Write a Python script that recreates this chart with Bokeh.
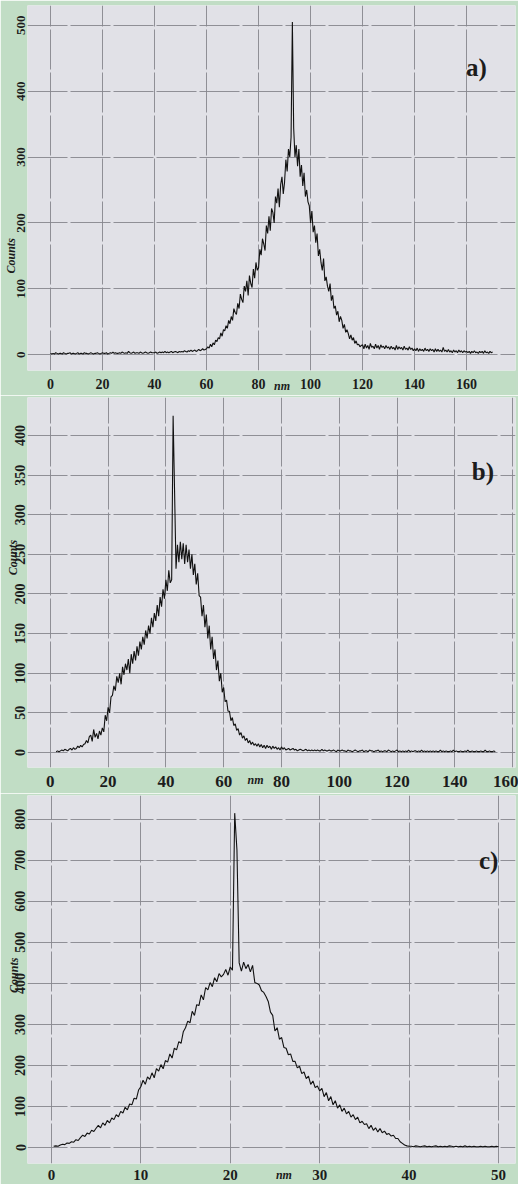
import numpy as np
from bokeh.plotting import figure
from bokeh.layouts import column
from bokeh.models import Label, FixedTicker, LinearAxis
from bokeh.embed import file_html
from bokeh.resources import INLINE

# ---- panel a) : size distribution, 0.5 nm bins from 0 nm ----
a_start, a_step = 0.0, 0.5
a_counts = [
    2, 1, 2, 1, 3, 2, 1, 2, 2, 1, 3, 2, 1, 2, 2, 3, 1, 2, 2, 1,
    2, 3, 1, 2, 2, 1, 3, 2, 2, 1, 2, 3, 2, 1, 2, 2, 3, 2, 1, 2,
    3, 2, 2, 3, 1, 2, 3, 2, 4, 2, 3, 2, 2, 3, 2, 4, 3, 2, 3, 2,
    5, 3, 2, 3, 4, 2, 3, 3, 2, 4, 3, 2, 3, 4, 3, 2, 3, 4, 3, 3,
    3, 4, 2, 3, 4, 3, 4, 3, 5, 3, 4, 3, 4, 5, 3, 4, 5, 4, 3, 5,
    4, 5, 4, 6, 5, 4, 6, 5, 7, 5, 6, 7, 5, 6, 8, 6, 7, 9, 7, 8,
    9, 12, 10, 16, 12, 18, 15, 22, 20, 26, 24, 33, 28, 38, 36, 44, 40, 52, 47, 58,
    52, 70, 64, 61, 78, 70, 92, 84, 79, 104, 96, 112, 90, 120, 108, 102, 130, 116, 140, 128,
    132, 160, 151, 176, 168, 158, 196, 184, 210, 188, 222, 216, 200, 240, 230, 252, 224, 258, 270, 244,
    262, 296, 278, 312, 300, 330, 505, 344, 300, 318, 286, 312, 270, 288, 256, 276, 240, 250, 232, 226,
    200, 218, 186, 196, 170, 184, 150, 160, 140, 128, 146, 112, 118, 104, 96, 108, 82, 90, 70, 74,
    60, 66, 50, 58, 52, 40, 46, 34, 38, 32, 24, 30, 22, 26, 17, 21, 15, 16, 12, 14,
    15, 9, 16, 10, 14, 8, 17, 11, 13, 9, 16, 10, 14, 8, 15, 11, 13, 9, 14, 10,
    12, 8, 13, 9, 11, 7, 14, 8, 12, 9, 11, 7, 13, 8, 10, 7, 12, 8, 10, 6,
    9, 6, 10, 5, 9, 6, 8, 5, 10, 6, 8, 5, 9, 6, 8, 4, 9, 5, 8, 5,
    7, 4, 11, 5, 7, 4, 8, 4, 6, 3, 7, 4, 6, 3, 7, 4, 6, 3, 6, 4,
    5, 3, 5, 2, 5, 3, 6, 3, 4, 2, 5, 3, 5, 2, 6, 3, 4, 2, 5, 3, 4,
]
a_xticks = [0, 20, 40, 60, 80, 100, 120, 140, 160]
a_yticks = [0, 100, 200, 300, 400, 500]

# ---- panel b) : 0.5 nm bins from 2 nm ----
b_start, b_step = 2.0, 0.5
b_counts = [
    1, 2, 1, 2, 3, 2, 4, 3, 2, 4, 5, 3, 6, 4, 5, 8, 6, 9, 7, 10,
    11, 15, 12, 20, 22, 14, 29, 19, 24, 17, 27, 22, 31, 26, 47, 40, 57, 50, 70, 72,
    84, 78, 96, 88, 100, 86, 108, 98, 112, 104, 118, 100, 124, 112, 128, 116, 134, 122, 140, 130,
    146, 136, 154, 144, 160, 150, 170, 158, 176, 166, 186, 172, 196, 184, 206, 194, 218, 204, 230, 214,
    218, 425, 330, 232, 262, 240, 266, 244, 264, 238, 262, 240, 256, 232, 250, 224, 238, 212, 226, 198,
    196, 172, 186, 158, 174, 144, 160, 130, 146, 118, 130, 104, 116, 90, 100, 76, 82, 64, 66, 52,
    52, 40, 44, 34, 36, 28, 30, 22, 25, 18, 21, 15, 18, 12, 15, 10, 13, 9, 11, 8,
    11, 7, 10, 6, 9, 5, 9, 6, 8, 4, 8, 5, 7, 4, 6, 3, 7, 4, 6, 3,
    4, 5, 3, 4, 5, 3, 4, 2, 3, 4, 3, 2, 3, 4, 2, 3, 2, 3, 2, 3,
    2, 3, 2, 2, 4, 2, 3, 2, 2, 3, 2, 2, 3, 2, 1, 3, 2, 2, 3, 2,
    2, 1, 3, 2, 2, 1, 2, 3, 2, 1, 2, 2, 3, 1, 2, 2, 1, 3, 2, 2,
    1, 2, 2, 3, 1, 2, 1, 2, 2, 1, 3, 2, 1, 2, 1, 2, 3, 1, 2, 1,
    2, 1, 2, 1, 3, 1, 2, 1, 2, 2, 1, 2, 1, 3, 1, 2, 1, 2, 1, 2,
    1, 2, 1, 2, 1, 1, 3, 1, 2, 1, 2, 1, 1, 2, 1, 3, 1, 2, 1, 1,
    2, 1, 1, 2, 1, 3, 1, 1, 2, 1, 1, 2, 1, 1, 2, 1, 1, 3, 1, 1,
    2, 1, 1, 2, 1,
]
b_xticks = [0, 20, 40, 60, 80, 100, 120, 140, 160]
b_yticks = [0, 50, 100, 150, 200, 250, 300, 350, 400]

# ---- panel c) : 0.25 nm bins from 0.25 nm ----
c_start, c_step = 0.25, 0.25
c_counts = [
    3, 4, 3, 6, 8, 7, 11, 10, 14, 13, 19, 17, 24, 30, 27, 35, 33, 42, 39, 47,
    54, 48, 60, 54, 66, 60, 72, 68, 80, 75, 88, 84, 98, 92, 106, 104, 120, 118, 140, 148,
    164, 154, 172, 166, 182, 170, 192, 186, 202, 192, 212, 208, 228, 218, 242, 238, 258, 254, 282, 292,
    308, 304, 332, 322, 348, 346, 372, 360, 390, 384, 402, 392, 414, 404, 424, 416, 422, 434, 420, 440,
    432, 815, 725, 450, 430, 452, 436, 446, 428, 444, 402, 400, 396, 382, 378, 368, 356, 330, 322, 284,
    292, 264, 268, 244, 242, 226, 228, 210, 210, 194, 198, 180, 184, 168, 174, 154, 162, 146, 150, 138,
    144, 124, 134, 114, 124, 104, 114, 96, 104, 88, 96, 82, 88, 74, 80, 68, 74, 60, 64, 56,
    58, 46, 54, 42, 48, 38, 46, 36, 40, 32, 34, 28, 30, 22, 22, 14, 10, 6, 4, 3,
    3, 2, 4, 3, 2, 3, 4, 2, 3, 2, 3, 4, 2, 3, 2, 3, 2, 4, 3, 2,
    3, 2, 3, 2, 4, 2, 3, 2, 3, 2, 2, 3, 2, 3, 2, 2, 3, 2, 3, 2,
]
c_xticks = [0, 10, 20, 30, 40, 50]
c_yticks = [0, 100, 200, 300, 400, 500, 600, 700, 800]

GREEN = "#c1ddc5"
PANEL = "#e1e1e7"
GRID = "#86868d"
INK = "#1c1c1c"
SERIF = "Liberation Serif"


def bare(ax):
    ax.axis_line_color = None
    ax.major_tick_line_color = None
    ax.minor_tick_line_color = None
    ax.major_tick_out = 0
    ax.major_tick_in = 0
    ax.minor_tick_out = 0
    ax.minor_tick_in = 0


def caption_axis(text, at, standoff, vertical=False):
    """Axis with a single tick whose label is the caption, placed at `at`."""
    ax = LinearAxis(ticker=FixedTicker(ticks=[at]),
                    major_label_overrides={at: text})
    bare(ax)
    ax.major_label_standoff = standoff
    ax.major_label_text_font = SERIF
    ax.major_label_text_font_style = "bold italic"
    ax.major_label_text_font_size = "12px"
    ax.major_label_text_color = INK
    if vertical:
        ax.major_label_orientation = "vertical"
    return ax


def panel(start, step, counts, xticks, yticks, xr, yr, h, borders,
          xfs, yfs, xstand, ystand, tag, tag_xy, nm_at, nm_off, cnt_at, cnt_off):
    p = figure(width=518, height=h, x_range=xr, y_range=yr,
               output_backend="svg", toolbar_location=None)
    left, right, top, bottom = borders
    p.min_border_left, p.min_border_right = left, right
    p.min_border_top, p.min_border_bottom = top, bottom
    p.background_fill_color = PANEL
    p.border_fill_color = GREEN
    p.outline_line_color = None

    for ax, ticks, fs in ((p.xaxis, xticks, xfs), (p.yaxis, yticks, yfs)):
        ax.ticker = FixedTicker(ticks=ticks)
        bare(ax)
        ax.major_label_text_font = SERIF
        ax.major_label_text_font_style = "bold"
        ax.major_label_text_font_size = fs
        ax.major_label_text_color = INK
    p.xaxis.major_label_standoff = xstand
    p.yaxis.major_label_standoff = ystand
    p.yaxis.major_label_orientation = "vertical"

    p.xgrid.ticker = FixedTicker(ticks=xticks)
    p.ygrid.ticker = FixedTicker(ticks=yticks)
    for g in (p.xgrid, p.ygrid):
        g.grid_line_color = GRID
        g.grid_line_alpha = 0.9
        g.grid_line_width = 1
        g.grid_line_dash = "40 3"

    x = start + step * np.arange(len(counts))
    p.line(x, counts, line_color="#111111", line_width=1.1)

    p.add_layout(Label(x=tag_xy[0], y=tag_xy[1], text=tag, text_font=SERIF,
                       text_font_style="bold", text_font_size="25px",
                       text_color=INK, text_align="center",
                       text_baseline="middle"))
    p.add_layout(caption_axis("nm", nm_at, nm_off), "below")
    p.add_layout(caption_axis("Counts", cnt_at, cnt_off, vertical=True), "left")
    return p


pa = panel(a_start, a_step, a_counts, a_xticks, a_yticks,
           (-8.85, 178.8), (-24, 530), 395, (27, 3, 5, 25),
           "14px", "13px", 8, 2, "a)", (163.8, 436),
           89, -13, 150, -4)
pb = panel(b_start, b_step, b_counts, b_xticks, b_yticks,
           (-7.9, 161.0), (-19, 448), 398, (25, 0, 2, 26),
           "17px", "14px", 8, 2, "b)", (149.7, 354),
           71, -17, 246, -8)
pc = panel(c_start, c_step, c_counts, c_xticks, c_yticks,
           (-2.67, 51.9), (-39, 858), 391, (25, 3, 2, 20),
           "15px", "14px", 6, 2, "c)", (48.9, 700),
           26, -15, 420, -9)

layout = column(pa, pb, pc, spacing=0)
open("out.html", "w").write(file_html(layout, INLINE))
